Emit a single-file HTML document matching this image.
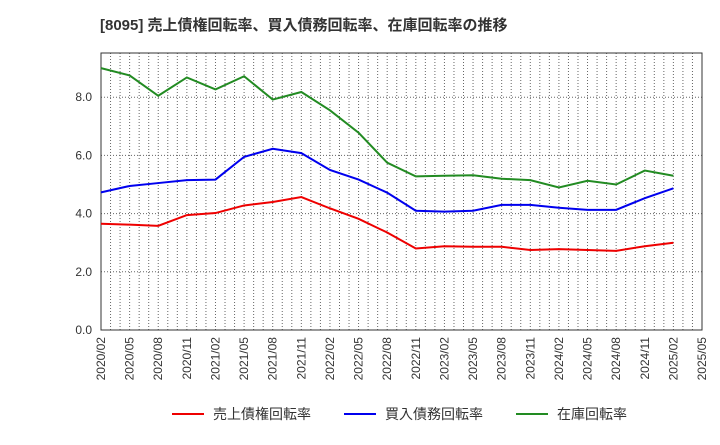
<!DOCTYPE html>
<html><head><meta charset="utf-8"><style>
body{margin:0;background:#fff;font-family:"Liberation Sans","Noto Sans CJK JP",sans-serif}
</style></head><body>
<svg width="720" height="440" xmlns="http://www.w3.org/2000/svg">
<text x="100" y="30" font-size="15" font-weight="bold" fill="#333" font-family="Liberation Sans, Noto Sans CJK JP, sans-serif">[8095]  売上債権回転率、買入債務回転率、在庫回転率の推移</text>
<g id="grid"></g><g id="axes"></g><g id="series"></g>
<g font-size="14" font-family="Liberation Sans, Noto Sans CJK JP, sans-serif" fill="#333">
<line x1="172" y1="414" x2="204" y2="414" stroke="#e00" stroke-width="2"/><text x="213" y="419">売上債権回転率</text>
<line x1="344" y1="414" x2="376" y2="414" stroke="#00e" stroke-width="2"/><text x="385" y="419">買入債務回転率</text>
<line x1="516" y1="414" x2="548" y2="414" stroke="#228b22" stroke-width="2"/><text x="557" y="419">在庫回転率</text>
</g>
</svg>
<script>
const categories=["2020/02","2020/05","2020/08","2020/11","2021/02","2021/05","2021/08","2021/11","2022/02","2022/05","2022/08","2022/11","2023/02","2023/05","2023/08","2023/11","2024/02","2024/05","2024/08","2024/11","2025/02","2025/05"];
const receivables=[3.65,3.62,3.58,3.95,4.02,4.28,4.4,4.57,4.18,3.82,3.35,2.8,2.88,2.86,2.86,2.75,2.78,2.75,2.72,2.88,3.0];
const payables=[4.73,4.95,5.05,5.15,5.17,5.95,6.23,6.08,5.5,5.17,4.72,4.1,4.07,4.1,4.3,4.3,4.2,4.13,4.13,4.53,4.87];
const inventory=[9.0,8.75,8.05,8.68,8.27,8.72,7.92,8.18,7.55,6.78,5.75,5.28,5.3,5.32,5.2,5.15,4.9,5.13,5.0,5.48,5.3];
const yTicks=[0,2,4,6,8];
const NS="http://www.w3.org/2000/svg";
const L=101,R=702,T=53,B=330,YMAX=9.52;
const x=i=>L+(R-L)*i/(categories.length-1);
const y=v=>B-(B-T)*v/YMAX;
function mk(tag,attrs,parent){const e=document.createElementNS(NS,tag);for(const k in attrs)e.setAttribute(k,attrs[k]);parent.appendChild(e);return e;}
const grid=document.getElementById('grid'),axes=document.getElementById('axes'),ser=document.getElementById('series');
const months=(categories.length-1)*3;
for(let m=1;m<months;m++){const xx=L+(R-L)*m/months;const g=mk('line',{x1:xx,x2:xx,y1:T,y2:B,stroke:'#666','stroke-dasharray':'1,2','stroke-width':1},grid);

}
yTicks.forEach(v=>{if(v>0){const g=mk('line',{x1:L,x2:R,y1:y(v),y2:y(v),stroke:'#666','stroke-dasharray':'1,2'},grid);

}
const t=mk('text',{x:L-9,y:y(v)+4,'text-anchor':'end','font-size':12,fill:'#333'},axes);t.textContent=v.toFixed(1);

});
const fr=mk('rect',{x:L,y:T,width:R-L,height:B-T,fill:'none',stroke:'#333'},axes);


categories.forEach((c,i)=>{const t=mk('text',{x:0,y:0,'text-anchor':'end','font-size':12,fill:'#333',transform:`translate(${x(i)+4},${B+7}) rotate(-90)`},axes);t.textContent=c;

});
[[receivables,'#e00','receivables-line'],[payables,'#00e','payables-line'],[inventory,'#228b22','inventory-line']].forEach(([d,c,n])=>{
const p=mk('polyline',{points:d.map((v,i)=>x(i)+','+y(v)).join(' '),fill:'none',stroke:c,'stroke-width':2},ser);

});
</script>
</body></html>
